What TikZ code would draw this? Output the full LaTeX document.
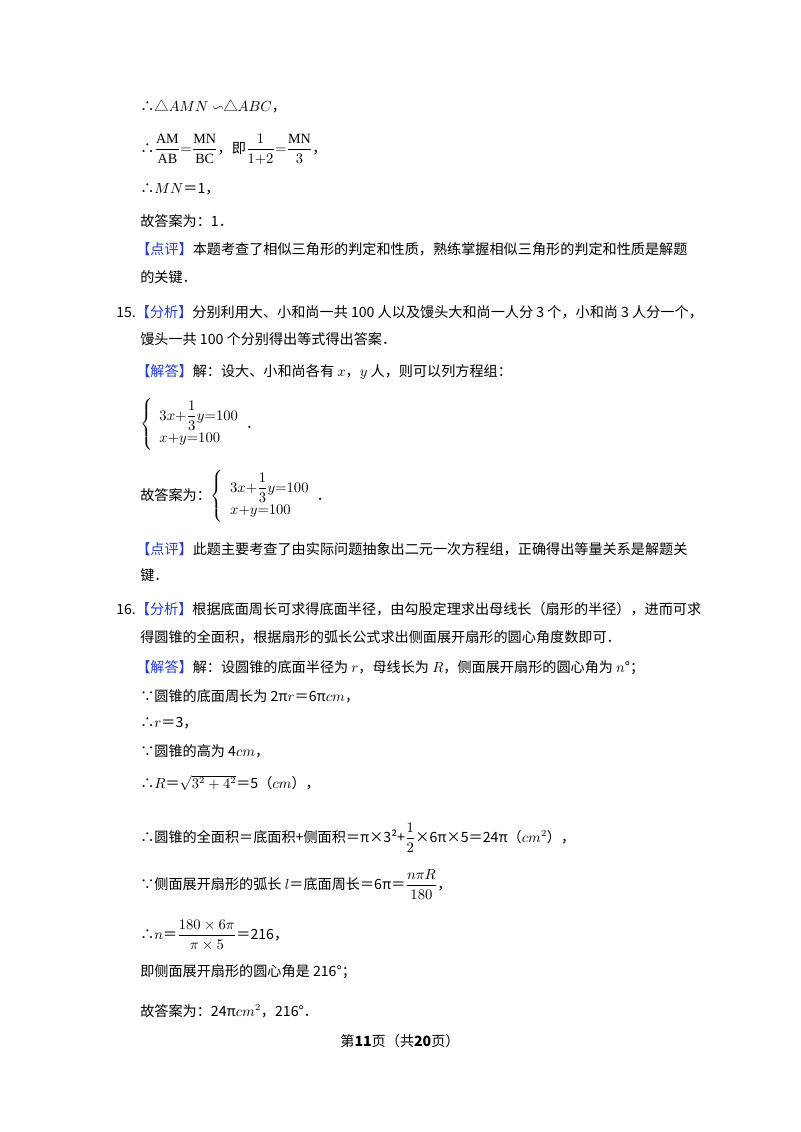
\documentclass[tikz,border=0pt]{standalone}
\usepackage{amsmath,amssymb}
\usepackage{fontspec}
\setmainfont{Liberation Serif}
\newfontfamily\cjk{Noto Sans CJK SC}
\definecolor{lblue}{RGB}{30,60,230}
\newcommand{\lbl}[1]{{\color{lblue}【#1】}}
\begin{document}
\begin{tikzpicture}[x=0.75pt,y=-0.75pt,
  ln/.style={anchor=base west,inner sep=0pt,font=\cjk\fontsize{10.6}{13}\selectfont}]
\useasboundingbox (0,0) rectangle (800,1132);
\fill[white] (0,0) rectangle (800,1132);
\node[ln] (l1) at (140,111) {∴△$AMN\backsim$△$ABC$，};
\node[ln] (l2) at (140,153) {∴$\dfrac{\mathrm{AM}}{\mathrm{AB}}{=}\dfrac{\mathrm{MN}}{\mathrm{BC}}$，即$\dfrac{1}{1{+}2}{=}\dfrac{\mathrm{MN}}{3}$，};
\node[ln] (l3) at (140,193) {∴$MN$＝1，};
\node[ln] (l4) at (140,226) {故答案为：1．};
\node[ln] (l5) at (136,254) {\lbl{点评}本题考查了相似三角形的判定和性质，熟练掌握相似三角形的判定和性质是解题};
\node[ln] (l6) at (140,282) {的关键．};
\node[ln] (l7) at (116,317) {15.\lbl{分析}分别利用大、小和尚一共 100 人以及馒头大和尚一人分 3 个，小和尚 3 人分一个，};
\node[ln] (l8) at (140,344) {馒头一共 100 个分别得出等式得出答案．};
\node[ln] (l9) at (136,376) {\lbl{解答}解：设大、小和尚各有 $x$，$y$ 人，则可以列方程组：};
\node[ln] (l10) at (140,428) {$\left\{\begin{array}{l}3x{+}\dfrac{1}{3}y{=}100\\[4pt] x{+}y{=}100\end{array}\right.$．};
\node[ln] (l11) at (140,500) {故答案为：$\left\{\begin{array}{l}3x{+}\dfrac{1}{3}y{=}100\\[4pt] x{+}y{=}100\end{array}\right.$．};
\node[ln] (l12) at (136,554) {\lbl{点评}此题主要考查了由实际问题抽象出二元一次方程组，正确得出等量关系是解题关};
\node[ln] (l13) at (140,580) {键．};
\node[ln] (l14) at (116,614) {16.\lbl{分析}根据底面周长可求得底面半径，由勾股定理求出母线长（扇形的半径），进而可求};
\node[ln] (l15) at (140,642) {得圆锥的全面积，根据扇形的弧长公式求出侧面展开扇形的圆心角度数即可．};
\node[ln] (l16) at (136,672) {\lbl{解答}解：设圆锥的底面半径为 $r$，母线长为 $R$，侧面展开扇形的圆心角为 $n$°；};
\node[ln] (l17) at (140,701) {∵圆锥的底面周长为 2π$r$＝6π$cm$，};
\node[ln] (l18) at (140,727) {∴$r$＝3，};
\node[ln] (l19) at (140,756) {∵圆锥的高为 4$cm$，};
\node[ln] (l20) at (140,788) {∴$R$＝$\sqrt{3^2+4^2}$＝5（$cm$），};
\node[ln] (l21) at (140,842) {∴圆锥的全面积＝底面积+侧面积＝π×3²+$\dfrac{1}{2}$×6π×5＝24π（$cm^2$），};
\node[ln] (l22) at (140,889) {∵侧面展开扇形的弧长 $l$＝底面周长＝6π＝$\dfrac{n\pi R}{180}$，};
\node[ln] (l23) at (140,939) {∴$n$＝$\dfrac{180\times6\pi}{\pi\times5}$＝216，};
\node[ln] (l24) at (140,976) {即侧面展开扇形的圆心角是 216°；};
\node[ln] (l25) at (140,1016) {故答案为：24π$cm^2$，216°．};
\node[ln,anchor=base] (ft) at (400,1046) {第\textbf{11}页（共\textbf{20}页）};
\end{tikzpicture}
\end{document}
